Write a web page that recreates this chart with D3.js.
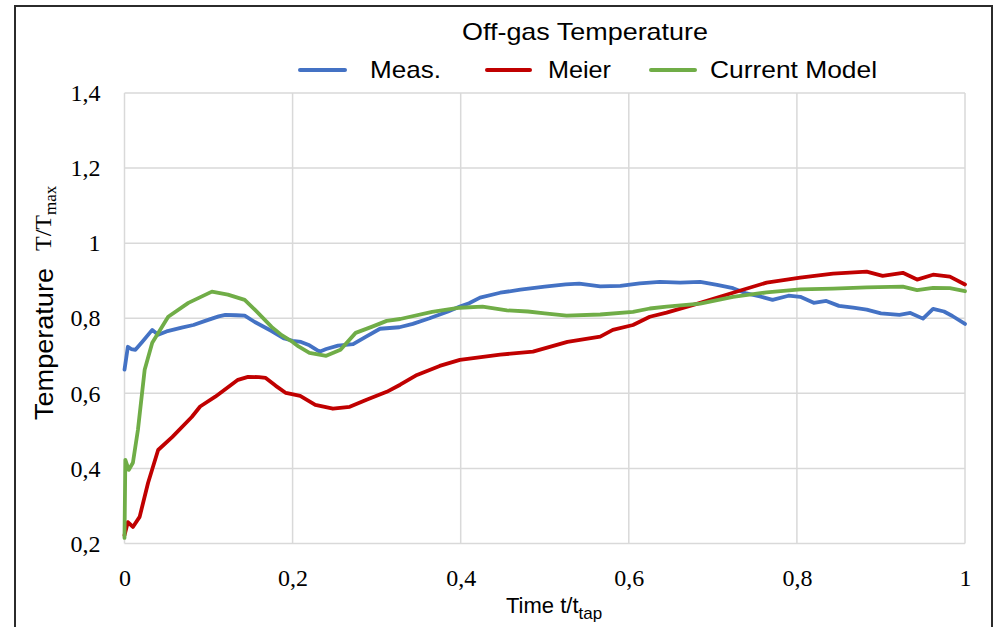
<!DOCTYPE html>
<html>
<head>
<meta charset="utf-8">
<script src="https://cdn.jsdelivr.net/npm/d3@7"></script>
<style>
  html, body { margin: 0; padding: 0; background: #fff; }
  svg.vis { display: block; }
</style>
</head>
<body>
<svg class="vis" width="996" height="627"></svg>
<script>

// series names
const series_names = ["Meas.", "Meier", "Current Model"];

// t/t_tap , T/T_max
const meas = [
  [0.000,0.663],[0.004,0.724],[0.008,0.718],[0.013,0.716],[0.021,0.737],[0.033,0.769],
  [0.040,0.756],[0.050,0.765],[0.068,0.775],[0.082,0.782],[0.096,0.793],[0.112,0.805],
  [0.120,0.809],[0.133,0.808],[0.143,0.807],[0.155,0.790],[0.165,0.778],[0.175,0.766],
  [0.190,0.746],[0.200,0.740],[0.210,0.737],[0.220,0.728],[0.232,0.711],[0.240,0.718],
  [0.254,0.727],[0.272,0.731],[0.288,0.752],[0.304,0.772],[0.327,0.776],[0.343,0.785],
  [0.363,0.800],[0.385,0.818],[0.399,0.831],[0.410,0.840],[0.423,0.855],[0.447,0.868],
  [0.471,0.876],[0.500,0.884],[0.525,0.890],[0.541,0.892],[0.566,0.885],[0.590,0.886],
  [0.613,0.893],[0.637,0.897],[0.661,0.895],[0.685,0.897],[0.705,0.889],[0.724,0.880],
  [0.740,0.866],[0.756,0.858],[0.771,0.849],[0.790,0.860],[0.804,0.857],[0.820,0.841],
  [0.835,0.846],[0.850,0.833],[0.867,0.828],[0.883,0.823],[0.900,0.813],[0.922,0.809],
  [0.935,0.814],[0.950,0.799],[0.962,0.825],[0.975,0.818],[0.985,0.806],[1.000,0.785]
];

const meier = [
  [0.000,0.222],[0.004,0.257],[0.010,0.244],[0.018,0.271],[0.028,0.361],[0.040,0.449],
  [0.057,0.484],[0.080,0.537],[0.090,0.565],[0.108,0.591],[0.135,0.636],[0.147,0.644],
  [0.160,0.643],[0.168,0.641],[0.180,0.620],[0.192,0.601],[0.209,0.593],[0.227,0.569],
  [0.248,0.559],[0.268,0.564],[0.288,0.583],[0.312,0.604],[0.328,0.623],[0.348,0.649],
  [0.375,0.673],[0.399,0.689],[0.447,0.703],[0.486,0.711],[0.527,0.737],[0.566,0.751],
  [0.581,0.769],[0.605,0.782],[0.625,0.804],[0.645,0.815],[0.685,0.841],[0.724,0.868],
  [0.764,0.895],[0.804,0.908],[0.843,0.919],[0.883,0.924],[0.902,0.913],[0.926,0.921],
  [0.943,0.903],[0.962,0.916],[0.982,0.911],[1.000,0.890]
];

const current_model = [
  [0.000,0.215],[0.001,0.423],[0.005,0.396],[0.010,0.415],[0.016,0.503],[0.024,0.663],
  [0.033,0.735],[0.052,0.804],[0.076,0.841],[0.104,0.871],[0.123,0.863],[0.143,0.849],
  [0.155,0.823],[0.175,0.777],[0.187,0.755],[0.200,0.737],[0.207,0.725],[0.220,0.708],
  [0.240,0.700],[0.257,0.716],[0.275,0.761],[0.294,0.777],[0.312,0.793],[0.328,0.798],
  [0.366,0.817],[0.399,0.828],[0.426,0.831],[0.455,0.821],[0.480,0.818],[0.500,0.813],
  [0.526,0.807],[0.566,0.810],[0.605,0.817],[0.625,0.826],[0.645,0.831],[0.685,0.839],
  [0.724,0.857],[0.764,0.869],[0.804,0.877],[0.843,0.879],[0.883,0.882],[0.926,0.884],
  [0.943,0.875],[0.962,0.881],[0.982,0.880],[1.000,0.872]
];

const x_ticks = [0, 0.2, 0.4, 0.6, 0.8, 1];
const y_ticks = [0.2, 0.4, 0.6, 0.8, 1, 1.2, 1.4];

const vis = {

    refs: { svg: "svg.vis" },

    sels: { svg: null },

    dims: {
        left: 124.5,
        right: 965,
        top: 93,
        bottom: 543.5
    },

    params: {
        colors: ["#4472C4", "#C00000", "#70AD47"],
        sans: "'Liberation Sans', Arial, sans-serif",
        serif: "'Liberation Serif', 'DejaVu Serif', serif",
        grid: "#d9d9d9"
    },

    init: function() {
        vis.sels.svg = d3.select(vis.refs.svg);
        vis.draw.scales();
        vis.draw.frame();
        vis.draw.grid();
        vis.draw.axes();
        vis.draw.lines();
        vis.draw.legend();
        vis.draw.labels();
    },

    scales: { x: null, y: null },

    // decimal comma, like the original
    fmt: d3.formatLocale({ decimal: ",", thousands: ".", grouping: [3], currency: ["", ""] }).format("~g"),

    draw: {

        scales: function() {
            vis.scales.x = d3.scaleLinear().domain([0, 1]).range([vis.dims.left, vis.dims.right]);
            vis.scales.y = d3.scaleLinear().domain([0.2, 1.4]).range([vis.dims.bottom, vis.dims.top]);
        },

        frame: function() {
            vis.sels.svg.append("rect")
              .attr("x", 15).attr("y", 6)
              .attr("width", 977).attr("height", 640)
              .attr("fill", "none")
              .attr("stroke", "#2b2b2b")
              .attr("stroke-width", 2);
        },

        grid: function() {
            let g = vis.sels.svg.append("g").attr("class", "grid");

            g.selectAll("line.h")
              .data(y_ticks)
              .join("line")
              .attr("class", "h")
              .attr("x1", vis.dims.left).attr("x2", vis.dims.right)
              .attr("y1", d => vis.scales.y(d)).attr("y2", d => vis.scales.y(d))
              .attr("stroke", vis.params.grid).attr("stroke-width", 1.5);

            g.selectAll("line.v")
              .data(x_ticks)
              .join("line")
              .attr("class", "v")
              .attr("y1", vis.dims.top).attr("y2", vis.dims.bottom)
              .attr("x1", d => vis.scales.x(d)).attr("x2", d => vis.scales.x(d))
              .attr("stroke", vis.params.grid).attr("stroke-width", 1.5);
        },

        axes: function() {
            let svg = vis.sels.svg;

            let ya = svg.append("g")
              .attr("transform", `translate(${vis.dims.left},0)`)
              .call(d3.axisLeft(vis.scales.y).tickValues(y_ticks).tickFormat(vis.fmt).tickSize(0).tickPadding(24));

            let xa = svg.append("g")
              .attr("transform", `translate(0,${vis.dims.bottom})`)
              .call(d3.axisBottom(vis.scales.x).tickValues(x_ticks).tickFormat(vis.fmt).tickSize(0).tickPadding(25));

            [ya, xa].forEach(a => {
                a.select(".domain").remove();
                a.selectAll("text")
                  .attr("fill", "#000")
                  .style("font-family", vis.params.serif)
                  .style("font-size", "24px");
            });
        },

        lines: function() {
            let line = d3.line()
              .x(d => vis.scales.x(d[0]))
              .y(d => vis.scales.y(d[1]));

            vis.sels.svg.append("g")
              .selectAll("path")
              .data([meas, meier, current_model])
              .join("path")
              .attr("d", line)
              .attr("fill", "none")
              .attr("stroke", (d, i) => vis.params.colors[i])
              .attr("stroke-width", 3.8)
              .attr("stroke-linejoin", "round")
              .attr("stroke-linecap", "round");
        },

        legend: function() {
            let svg = vis.sels.svg;

            svg.append("text")
              .attr("x", 462).attr("y", 40)
              .attr("textLength", 246)
              .attr("lengthAdjust", "spacingAndGlyphs")
              .style("font-family", vis.params.sans)
              .style("font-size", "24px")
              .text("Off-gas Temperature");

            // line start/end, text start, text width
            let items = [
                { x1: 300, x2: 345, tx: 370, tw: 71 },
                { x1: 487, x2: 530, tx: 548, tw: 63 },
                { x1: 651, x2: 695, tx: 710, tw: 167 }
            ];

            let g = svg.append("g")
              .selectAll("g")
              .data(series_names)
              .join("g");

            g.append("line")
              .attr("x1", (d, i) => items[i].x1).attr("x2", (d, i) => items[i].x2)
              .attr("y1", 70).attr("y2", 70)
              .attr("stroke", (d, i) => vis.params.colors[i])
              .attr("stroke-width", 4)
              .attr("stroke-linecap", "round");

            g.append("text")
              .attr("x", (d, i) => items[i].tx).attr("y", 78)
              .attr("textLength", (d, i) => items[i].tw)
              .attr("lengthAdjust", "spacingAndGlyphs")
              .style("font-family", vis.params.sans)
              .style("font-size", "24px")
              .text(d => d);
        },

        labels: function() {
            let svg = vis.sels.svg;

            // x title, subscript partly cut by the picture edge
            let xt = svg.append("text")
              .attr("x", 506).attr("y", 613)
              .style("font-family", vis.params.sans)
              .style("font-size", "22px");
            xt.append("tspan").text("Time t/t");
            xt.append("tspan").attr("dy", 6).style("font-size", "17px").text("tap");

            // y title: sans word + serif ratio
            svg.append("text")
              .attr("transform", "translate(53,420) rotate(-90)")
              .attr("textLength", 152)
              .attr("lengthAdjust", "spacingAndGlyphs")
              .style("font-family", vis.params.sans)
              .style("font-size", "25px")
              .text("Temperature");

            let yt = svg.append("text")
              .attr("transform", "translate(51,251) rotate(-90)")
              .style("font-family", vis.params.serif)
              .style("font-size", "24px");
            yt.append("tspan").text("T/T");
            yt.append("tspan").attr("dy", 5).style("font-size", "17px").text("max");
        }
    }
};

vis.init();

</script>
</body>
</html>
